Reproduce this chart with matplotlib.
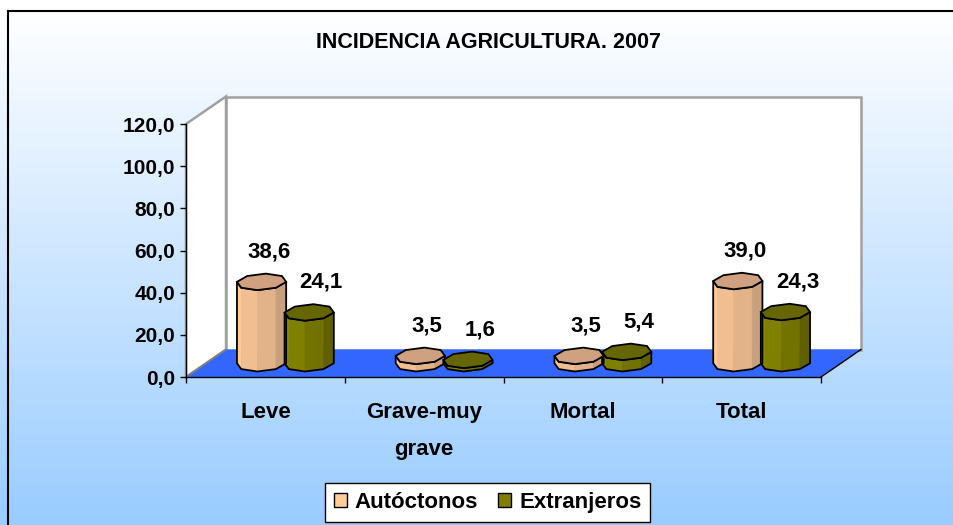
import numpy as np
import matplotlib.pyplot as plt
from matplotlib.patches import Polygon, Rectangle

plt.rcParams['font.family'] = ['Liberation Sans', 'DejaVu Sans']

categories = ['Leve', 'Grave-muy\ngrave', 'Mortal', 'Total']
autoctonos = [38.6, 3.5, 3.5, 39.0]
extranjeros = [24.1, 1.6, 5.4, 24.3]
series_names = ['Autóctonos', 'Extranjeros']
yticks = [0, 20, 40, 60, 80, 100, 120]
title = 'INCIDENCIA AGRICULTURA. 2007'

W, H = 954, 525
fig = plt.figure(figsize=(W / 100, H / 100), dpi=100)

# backdrop: white to light blue, with the chart frame
bg = fig.add_axes([0, 0, 1, 1], zorder=-10)
yy = np.arange(H)
t = np.clip((yy - 11) / (H - 11), 0, 1)[:, None]
top_c = np.array([1.0, 1.0, 1.0])
bot_c = np.array([0.60, 0.80, 1.0])
grad = (top_c * (1 - t) + bot_c * t)[:, None, :]
bg.imshow(grad, aspect='auto', extent=[0, W, H, 0])
bg.plot([8, W], [11, 11], color='black', lw=1.5)
bg.plot([8, 8], [11, H], color='black', lw=1.5)
bg.set_xlim(0, W)
bg.set_ylim(H, 0)
bg.axis('off')

fig.text(488 / W, 1 - 43 / H, title, ha='center', va='center',
         fontsize=15.5, fontweight='bold')

ax = fig.add_axes([186 / W, 1 - 377 / H, 635 / W, 253 / H])
n = len(categories)
ymax = yticks[-1]
ax.set_xlim(0, n)
ax.set_ylim(0, ymax)
ax.patch.set_visible(False)

# depth offset of the 3d box, in data units
DX = 40 / 635 * n
DY = 27.5 / 253 * ymax

back = Polygon([(DX, DY), (n + DX, DY), (n + DX, ymax + DY), (DX, ymax + DY)],
               closed=True, fc='white', ec='#A0A0A0', lw=1.8, clip_on=False, zorder=0.5)
left = Polygon([(0, 0), (DX, DY), (DX, ymax + DY), (0, ymax)],
               closed=True, fc='white', ec='#A0A0A0', lw=1.8, clip_on=False, zorder=0.5)
floor = Polygon([(0, 0), (n, 0), (n + DX, DY), (DX, DY)],
                closed=True, fc='#3366FF', ec='none', clip_on=False, zorder=0.6)
ax.add_patch(back)
ax.add_patch(left)
ax.add_patch(floor)
ax.plot([0, DX], [0, DY], color='#808080', lw=1.2, clip_on=False, zorder=0.7)
ax.plot([n, n + DX], [0, DY], color='black', lw=1.0, clip_on=False, zorder=0.7)


def draw_prism(ax, xc, h, side_colors, top_color, a=0.155, c=0.3, skew=0.35):
    th = np.deg2rad(np.arange(9) * 45.0)
    u = a * np.cos(th)
    w = 0.5 + c * np.sin(th)
    px = xc + u + 0.5 * DX + (w - 0.5) * DX * skew
    base = w * DY
    top = h + w * DY
    # front faces, left to right
    for i, k in enumerate(range(4, 8)):
        quad = [(px[k], base[k]), (px[k + 1], base[k + 1]),
                (px[k + 1], top[k + 1]), (px[k], top[k])]
        ax.add_patch(Polygon(quad, closed=True, fc=side_colors[i], ec=side_colors[i],
                             lw=0.5, clip_on=False, zorder=2))
    outline = [(px[k], base[k]) for k in range(4, 9)] + \
              [(px[k], top[k]) for k in range(8, 3, -1)]
    ax.add_patch(Polygon(outline, closed=True, fill=False, ec='black', lw=1.3,
                         clip_on=False, zorder=2.1))
    ax.add_patch(Polygon(list(zip(px[:8], top[:8])), closed=True, fc=top_color,
                         ec='black', lw=1.3, clip_on=False, zorder=2.2))


peach_sides = ['#FFCC99', '#F0BE90', '#E2B289', '#C9A07E']
olive_sides = ['#8C8C00', '#808000', '#727200', '#606000']
peach_top = '#CFA181'
olive_top = '#666600'

shift = 0.15
for i in range(n):
    xc = i + 0.5
    for vals, sides, topc, dx_off, lbl_dx in [
            (autoctonos, peach_sides, peach_top, -shift, 7),
            (extranjeros, olive_sides, olive_top, shift, 12)]:
        v = vals[i]
        draw_prism(ax, xc + dx_off, v, sides, topc)
        ax.annotate(f'{v:.1f}'.replace('.', ','),
                    xy=(xc + dx_off + 0.5 * DX, v + 0.5 * DY),
                    xytext=(lbl_dx, 30), textcoords='offset pixels',
                    ha='center', va='center', fontsize=16, fontweight='bold',
                    annotation_clip=False, zorder=3)

for s in ['top', 'right']:
    ax.spines[s].set_visible(False)
for s in ['left', 'bottom']:
    ax.spines[s].set_color('black')
    ax.spines[s].set_linewidth(1.0)
    ax.spines[s].set_zorder(2.5)

ax.set_yticks(yticks)
ax.set_yticklabels([f'{v:.1f}'.replace('.', ',') for v in yticks],
                   fontsize=15, fontweight='bold')
ax.tick_params(axis='y', direction='out', length=4.3, width=1, pad=3.5)

ax.set_xticks(np.arange(n + 1))
ax.set_xticklabels([])
ax.tick_params(axis='x', which='major', direction='out', length=4.3, width=1)
ax.set_xticks(np.arange(n) + 0.5, minor=True)
ax.set_xticklabels(categories, minor=True, fontsize=16, fontweight='bold',
                   linespacing=2.0)
ax.tick_params(axis='x', which='minor', length=0, pad=18)

handles = [Rectangle((0, 0), 1, 1, fc=peach_sides[0], ec='black', lw=1),
           Rectangle((0, 0), 1, 1, fc=olive_sides[1], ec='black', lw=1)]
leg = fig.legend(handles, series_names, ncol=2, loc='center',
                 bbox_to_anchor=(487.5 / W, 1 - 502.5 / H),
                 prop={'weight': 'bold', 'size': 16}, frameon=True, fancybox=False,
                 handlelength=0.6, handleheight=0.6, handletextpad=0.35,
                 columnspacing=0.9, borderpad=0.4, borderaxespad=0)
leg.get_frame().set_edgecolor('black')
leg.get_frame().set_linewidth(1.0)
leg.get_frame().set_facecolor('white')
leg.get_frame().set_alpha(1)

fig.savefig('out.png', dpi=100)
